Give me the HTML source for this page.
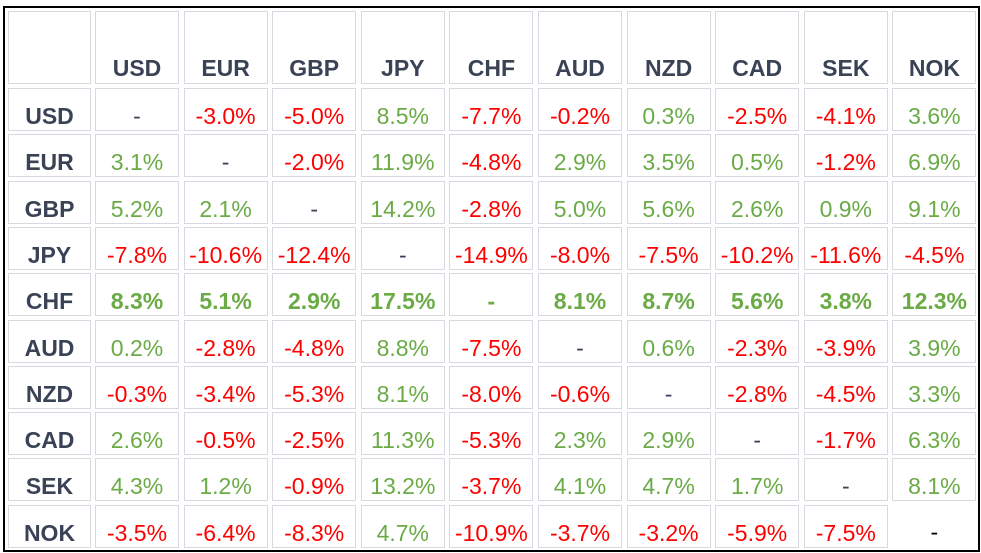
<!DOCTYPE html>
<html><head><meta charset="utf-8"><style>
body{margin:0;width:981px;height:553px;background:#fff;position:relative;overflow:hidden;font-family:"Liberation Sans",sans-serif}
#frame{position:absolute;left:3px;top:6px;width:973px;height:542px;border:2px solid #000}
.c{position:absolute;box-sizing:border-box;border:1px solid #d8d8e0;text-align:center;font-size:23px;color:#3a4256}
.h{font-weight:bold}
.r{color:#ff0000}.g{color:#6aab46}.b{font-weight:bold}
</style></head><body>
<div id="frame"></div>
<div id="grid"></div>
<script>
const cur=["USD","EUR","GBP","JPY","CHF","AUD","NZD","CAD","SEK","NOK"];
const vals=[
[null,-3.0,-5.0,8.5,-7.7,-0.2,0.3,-2.5,-4.1,3.6],
[3.1,null,-2.0,11.9,-4.8,2.9,3.5,0.5,-1.2,6.9],
[5.2,2.1,null,14.2,-2.8,5.0,5.6,2.6,0.9,9.1],
[-7.8,-10.6,-12.4,null,-14.9,-8.0,-7.5,-10.2,-11.6,-4.5],
[8.3,5.1,2.9,17.5,null,8.1,8.7,5.6,3.8,12.3],
[0.2,-2.8,-4.8,8.8,-7.5,null,0.6,-2.3,-3.9,3.9],
[-0.3,-3.4,-5.3,8.1,-8.0,-0.6,null,-2.8,-4.5,3.3],
[2.6,-0.5,-2.5,11.3,-5.3,2.3,2.9,null,-1.7,6.3],
[4.3,1.2,-0.9,13.2,-3.7,4.1,4.7,1.7,null,8.1],
[-3.5,-6.4,-8.3,4.7,-10.9,-3.7,-3.2,-5.9,-7.5,null]];
const g=document.getElementById('grid');
function cell(x,w,y,h,txt,cls,pt,nb){
 const d=document.createElement('div');
 d.className='c '+cls;
 d.style.left=x+'px';d.style.top=y+'px';d.style.width=w+'px';d.style.height=h+'px';
 d.style.paddingTop=pt+'px';
 if(nb)d.style.border='none';
 d.textContent=txt;
 g.appendChild(d);return d;}
const colX=i=>95+i*88.6, rowY=r=>88+r*46.3;
let d=cell(8,83,11,73,'','h',0);


cur.forEach((c,i)=>{
 const e=cell(colX(i),84,11,73,c,'h',43);
 
 
});
cur.forEach((c,r)=>{
 const e=cell(8,83,rowY(r),43,c,'h',14);
 
 
 vals[r].forEach((v,i)=>{
  let txt,cls='';
  if(v===null){txt='-';}else{txt=v.toFixed(1)+'%';cls=v<0?'r':'g';}
  if(c==='CHF'){cls+=' b';if(v===null)cls='g b';}
  const isLast=(r===9&&i===9);
  const e2=cell(colX(i),84,rowY(r),43,txt,cls,14,isLast);
  if(isLast)e2.style.color='#000';
  
  
 });
});
</script>
</body></html>
